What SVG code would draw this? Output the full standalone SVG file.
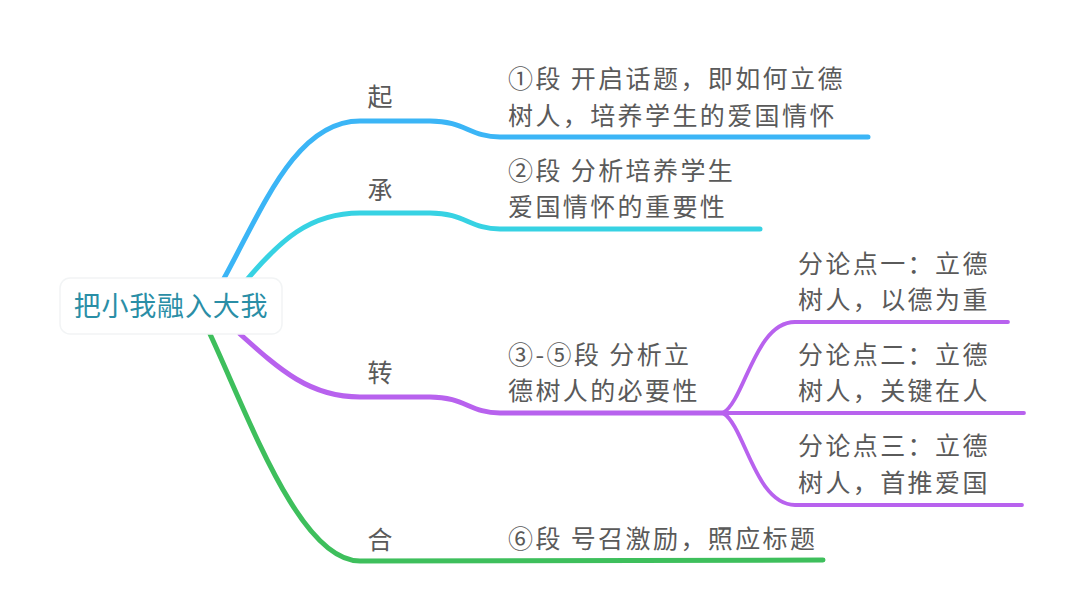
<svg xmlns="http://www.w3.org/2000/svg" width="1080" height="616" viewBox="0 0 1080 616">
<style>
.t{font-family:"Noto Sans CJK SC","Noto Sans",sans-serif;font-size:25px;letter-spacing:2.4px;fill:#5a5a5a}
.s{font-family:"Noto Sans CJK SC","Noto Sans",sans-serif;font-size:25px;fill:#5a5a5a}
.c{fill:none;stroke-linecap:round;stroke-linejoin:round}
.b1{stroke:#3bb5f6}
.b2{stroke:#37d2e3}
.b3{stroke:#b862ee}
.b4{stroke:#3ebf5c}
</style>
<rect width="1080" height="616" fill="#ffffff"/>
<g id="connectors">
<path class="c b1" stroke-width="5" d="M222 282 C262 210 295 121 360 121 L430 121 C465 121 470 137 500 137 L868 137"/>
<path class="c b2" stroke-width="5" d="M245 282 C280 240 310 213 360 213 L430 213 C465 213 470 229 500 229 L760 229"/>
<path class="c b3" stroke-width="5" d="M240 334 C280 370 310 397 360 397 L430 397 C465 397 470 413 500 413 L723 413"/>
<path class="c b3" stroke-width="3.8" d="M723 413 C745 400 755 322 795 322 L1008 322"/>
<path class="c b3" stroke-width="3.8" d="M723 413 L1024 413"/>
<path class="c b3" stroke-width="3.8" d="M723 413 C745 426 755 505 795 505 L1022 505"/>
<path class="c b4" stroke-width="5" d="M210 334 C250 420 300 561 360 561 L823 560"/>
</g>
<g id="root">
<rect x="60" y="278" width="222" height="56" rx="10" fill="#ffffff" stroke="#f2f4f5" stroke-width="1.5"/>
<text x="171" y="316" text-anchor="middle" style="font-family:'Noto Sans CJK SC','Noto Sans',sans-serif;font-size:27px;letter-spacing:0.8px;fill:#2a8ea6">把小我融入大我</text>
</g>
<g id="qi"><text class="s" x="380" y="106" text-anchor="middle">起</text></g>
<g id="cheng"><text class="s" x="380" y="199" text-anchor="middle">承</text></g>
<g id="zhuan"><text class="s" x="380" y="382" text-anchor="middle">转</text></g>
<g id="he"><text class="s" x="380" y="549" text-anchor="middle">合</text></g>
<g id="n1"><text class="t" x="508" y="88">①段 开启话题，即如何立德</text><text class="t" x="508" y="125">树人，培养学生的爱国情怀</text></g>
<g id="n2"><text class="t" x="508" y="180">②段 分析培养学生</text><text class="t" x="508" y="216">爱国情怀的重要性</text></g>
<g id="n3"><text class="t" x="508" y="364">③-⑤段 分析立</text><text class="t" x="508" y="400">德树人的必要性</text></g>
<g id="n31"><text class="t" x="798" y="273">分论点一：立德</text><text class="t" x="798" y="309">树人，以德为重</text></g>
<g id="n32"><text class="t" x="798" y="364">分论点二：立德</text><text class="t" x="798" y="400">树人，关键在人</text></g>
<g id="n33"><text class="t" x="798" y="455">分论点三：立德</text><text class="t" x="798" y="492">树人，首推爱国</text></g>
<g id="n4"><text class="t" x="508" y="548">⑥段 号召激励，照应标题</text></g>
</svg>
